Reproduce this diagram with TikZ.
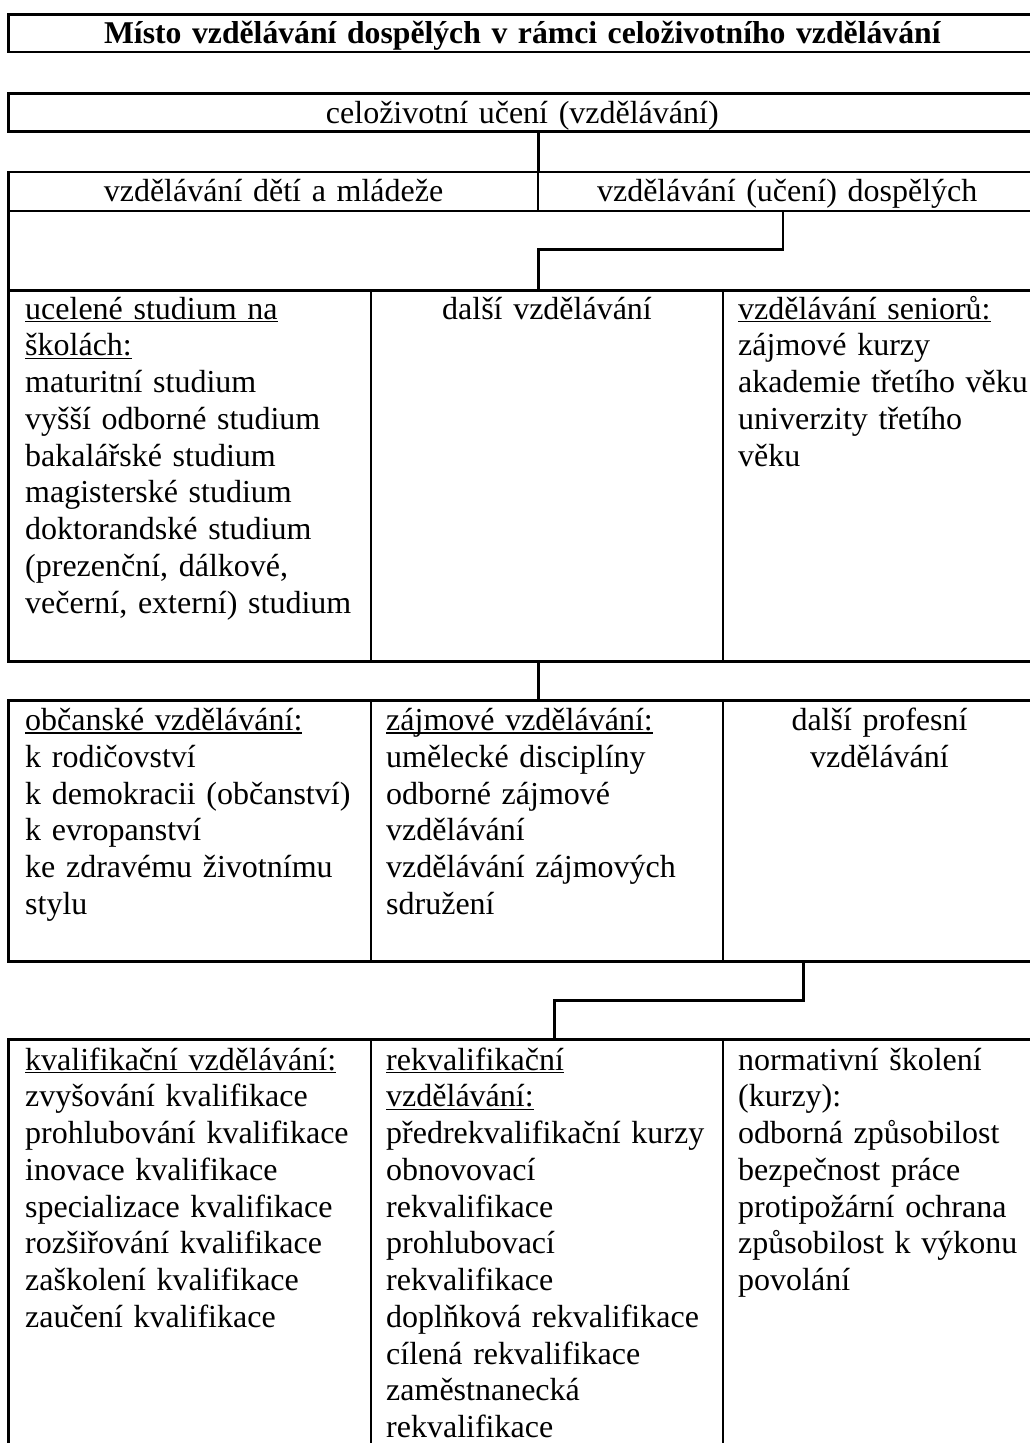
\documentclass[tikz,border=0pt]{standalone}
\usepackage{fontspec}
\setmainfont{Liberation Serif}
\newsavebox\ulbox
\newcommand\ulx[1]{\leavevmode\sbox\ulbox{#1}\rlap{\rule[-3.3pt]{\wd\ulbox}{1.5pt}}\usebox\ulbox}
\tikzset{
  rowbox/.style={draw, line width=2.7pt, inner sep=0pt, outer sep=0pt, anchor=north west},
  divline/.style={line width=1.8pt},
  conn/.style={line width=2.5pt},
  ltext/.style={font=\fontsize{32}{36.75}\selectfont, inner sep=0pt, align=left, text width=340pt, anchor=base west},
  ctext/.style={font=\fontsize{32}{36.75}\selectfont, inner sep=0pt, align=center, text width=330pt, anchor=base},
}
\begin{document}
\begin{tikzpicture}[x=1pt,y=-1pt]
\useasboundingbox (0,0) rectangle (1030,1443);
\clip (0,0) rectangle (1030,1443);

% spine coordinates
\coordinate (x1) at (538.3,0);
\coordinate (x5) at (371,0);
\coordinate (x6) at (723,0);
\coordinate (k1) at (783,249.7);
\coordinate (k2) at (538.3,249.7);
\coordinate (k3) at (803.3,1000.3);
\coordinate (k4) at (554.3,1000.3);

% row boxes
\node[rowbox, minimum width=1027.3pt, minimum height=37.3pt] (title) at (8.7,14.7) {};
\node[rowbox, minimum width=1027.3pt, minimum height=37.6pt] (r2) at (8.7,93.7) {};
\node[rowbox, minimum width=1027.3pt, minimum height=39pt] (r3) at (8.7,172) {};
\node[rowbox, minimum width=1027.3pt, minimum height=371pt] (r4) at (8.7,290.3) {};
\node[rowbox, minimum width=1027.3pt, minimum height=261pt] (r5) at (8.7,700.3) {};
\node[rowbox, minimum width=1027.3pt, minimum height=500pt] (r6) at (8.7,1039.7) {};

% left border of the empty row
\draw[line width=2.7pt] (r3.south west) -- (r4.north west);

% dividers
\draw[divline] (x1 |- r3.north) -- (x1 |- r3.south);
\foreach \r in {r4,r5,r6}{
  \draw[divline] (x5 |- \r.north) -- (x5 |- \r.south);
  \draw[divline] (x6 |- \r.north) -- (x6 |- \r.south);
}

% connectors
\draw[conn] (x1 |- r2.south) -- (x1 |- r3.north);
\draw[conn] (k1 |- r3.south) -- (k1) -- (k2) -- (k2 |- r4.north);
\draw[conn] (x1 |- r4.south) -- (x1 |- r5.north);
\draw[conn] (k3 |- r5.south) -- (k3) -- (k4) -- (k4 |- r6.north);

% texts
\node[ctext, font=\fontsize{31.7}{36.75}\selectfont\bfseries, text width=1000pt] (ttitle) at (522.3,43.8) {Místo vzdělávání dospělých v rámci celoživotního vzdělávání};
\node[ctext, text width=1000pt] (tcelo) at (522.3,123) {celoživotní učení (vzdělávání)};
\node[ctext, text width=520pt] (tdeti) at (273.5,201.5) {vzdělávání dětí a mládeže};
\node[ctext, text width=490pt] (tdosp) at (787.2,201.5) {vzdělávání (učení) dospělých};

\node[ltext] (t4a) at (25,319) {\ulx{ucelené studium na}\\\ulx{školách:}\\maturitní studium\\vyšší odborné studium\\bakalářské studium\\magisterské studium\\doktorandské studium\\(prezenční, dálkové,\\večerní, externí) studium};
\node[ctext] (t4b) at (547,319) {další vzdělávání};
\node[ltext] (t4c) at (738,319) {\ulx{vzdělávání seniorů:}\\zájmové kurzy\\akademie třetího věku\\univerzity třetího\\věku};

\node[ltext] (t5a) at (25,730.5) {\ulx{občanské vzdělávání:}\\k rodičovství\\k demokracii (občanství)\\k evropanství\\ke zdravému životnímu\\stylu};
\node[ltext] (t5b) at (386,730.5) {\ulx{zájmové vzdělávání:}\\umělecké disciplíny\\odborné zájmové\\vzdělávání\\vzdělávání zájmových\\sdružení};
\node[ctext] (t5c) at (879.5,730.5) {další profesní\\vzdělávání};

\node[ltext] (t6a) at (25,1070) {\ulx{kvalifikační vzdělávání:}\\zvyšování kvalifikace\\prohlubování kvalifikace\\inovace kvalifikace\\specializace kvalifikace\\rozšiřování kvalifikace\\zaškolení kvalifikace\\zaučení kvalifikace};
\node[ltext] (t6b) at (386,1070) {\ulx{rekvalifikační}\\\ulx{vzdělávání:}\\předrekvalifikační kurzy\\obnovovací\\rekvalifikace\\prohlubovací\\rekvalifikace\\doplňková rekvalifikace\\cílená rekvalifikace\\zaměstnanecká\\rekvalifikace};
\node[ltext] (t6c) at (738,1070) {normativní školení\\(kurzy):\\odborná způsobilost\\bezpečnost práce\\protipožární ochrana\\způsobilost k výkonu\\povolání};
\end{tikzpicture}
\end{document}
